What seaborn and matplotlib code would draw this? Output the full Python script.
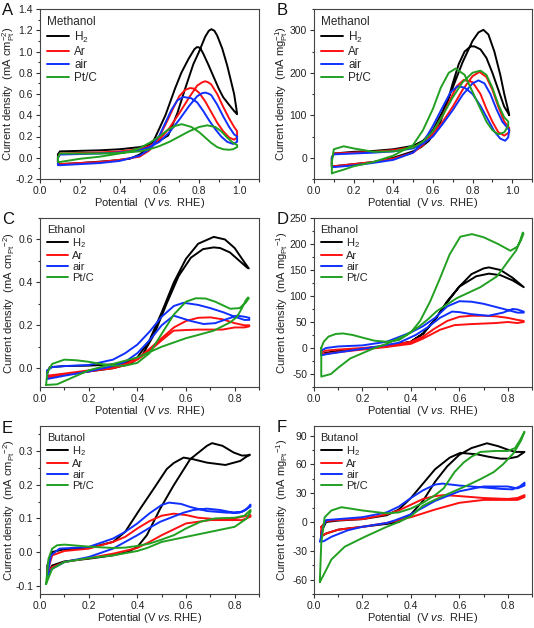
import matplotlib
matplotlib.use("Agg")
import matplotlib.pyplot as plt
import numpy as np
import pandas as pd
import seaborn as sns
from matplotlib.ticker import MultipleLocator, FormatStrFormatter

# ---------------- data ----------------
SERIES = ["H$_2$", "Ar", "air", "Pt/C"]
COLORS = ["#000000", "#ff1010", "#1030ff", "#22a022"]

# Panel A  - methanol, specific activity (mA cm-2 Pt)
A_H2_x = [0.09, 0.1, 0.2, 0.3, 0.4, 0.5, 0.55, 0.6, 0.644, 0.69, 0.729, 0.77, 0.797, 0.83, 0.848, 0.861, 0.876, 0.89, 0.915, 0.94, 0.957, 0.975, 0.985, 0.99,
          0.985, 0.975, 0.949, 0.92, 0.898, 0.87, 0.847, 0.82, 0.807, 0.797, 0.787, 0.775, 0.746, 0.71, 0.678, 0.63, 0.576, 0.55, 0.5, 0.45, 0.35, 0.2, 0.1, 0.09, 0.09]
A_H2_y = [0.03, 0.06, 0.065, 0.07, 0.08, 0.1, 0.12, 0.16, 0.21, 0.42, 0.65, 0.88, 0.99, 1.14, 1.195, 1.21, 1.195, 1.15, 1.03, 0.87, 0.74, 0.6, 0.48, 0.41,
          0.42, 0.44, 0.5, 0.57, 0.65, 0.77, 0.87, 0.98, 1.025, 1.04, 1.04, 1.02, 0.93, 0.8, 0.65, 0.4, 0.18, 0.1, 0.03, -0.01, -0.03, -0.05, -0.06, -0.04, 0.03]
A_Ar_x = [0.09, 0.1, 0.2, 0.3, 0.4, 0.5, 0.55, 0.6, 0.65, 0.7, 0.75, 0.79, 0.815, 0.83, 0.845, 0.86, 0.89, 0.92, 0.95, 0.975, 0.99,
          0.99, 0.975, 0.95, 0.92, 0.89, 0.86, 0.83, 0.8, 0.775, 0.754, 0.73, 0.7, 0.67, 0.64, 0.6, 0.55, 0.5, 0.4, 0.3, 0.2, 0.1, 0.09, 0.09]
A_Ar_y = [0.0, 0.04, 0.045, 0.05, 0.06, 0.08, 0.11, 0.17, 0.28, 0.42, 0.57, 0.68, 0.71, 0.72, 0.71, 0.69, 0.6, 0.48, 0.37, 0.29, 0.25,
          0.19, 0.17, 0.19, 0.25, 0.33, 0.43, 0.53, 0.61, 0.65, 0.656, 0.64, 0.58, 0.47, 0.35, 0.2, 0.07, 0.01, -0.02, -0.04, -0.05, -0.06, -0.06, 0.0]
A_air_x = [0.09, 0.1, 0.2, 0.3, 0.4, 0.5, 0.55, 0.6, 0.65, 0.7, 0.75, 0.79, 0.815, 0.83, 0.845, 0.86, 0.89, 0.92, 0.95, 0.975, 0.99,
           0.99, 0.97, 0.94, 0.91, 0.88, 0.85, 0.82, 0.79, 0.76, 0.72, 0.69, 0.66, 0.63, 0.6, 0.55, 0.5, 0.4, 0.3, 0.2, 0.1, 0.09, 0.09]
A_air_y = [0.0, 0.03, 0.035, 0.04, 0.05, 0.07, 0.1, 0.15, 0.24, 0.36, 0.49, 0.58, 0.608, 0.613, 0.605, 0.59, 0.5, 0.39, 0.29, 0.22, 0.2,
           0.15, 0.13, 0.15, 0.2, 0.27, 0.35, 0.44, 0.52, 0.56, 0.572, 0.54, 0.45, 0.33, 0.21, 0.08, 0.02, -0.03, -0.05, -0.06, -0.07, -0.07, 0.0]
A_PtC_x = [0.09, 0.1, 0.2, 0.3, 0.4, 0.5, 0.55, 0.6, 0.65, 0.7, 0.75, 0.8, 0.84, 0.88, 0.91, 0.94, 0.97, 0.99,
           0.99, 0.97, 0.95, 0.92, 0.89, 0.86, 0.83, 0.8, 0.76, 0.712, 0.68, 0.64, 0.6, 0.55, 0.5, 0.45, 0.4, 0.3, 0.2, 0.1, 0.09, 0.09]
A_PtC_y = [0.0, 0.04, 0.04, 0.04, 0.045, 0.06, 0.08, 0.11, 0.15, 0.2, 0.25, 0.29, 0.305, 0.29, 0.25, 0.19, 0.14, 0.12,
           0.1, 0.08, 0.075, 0.08, 0.1, 0.14, 0.19, 0.24, 0.29, 0.316, 0.3, 0.26, 0.2, 0.14, 0.09, 0.06, 0.04, 0.01, -0.01, -0.04, -0.04, 0.0]

# Panel B  - methanol, mass activity (mA mg-1 Pt)
B_H2_x = [0.09, 0.1, 0.2, 0.3, 0.4, 0.5, 0.55, 0.6, 0.65, 0.7, 0.75, 0.8, 0.83, 0.855, 0.88, 0.91, 0.94, 0.96, 0.98, 0.985,
          0.98, 0.96, 0.93, 0.9, 0.87, 0.84, 0.81, 0.79, 0.76, 0.73, 0.7, 0.67, 0.63, 0.58, 0.54, 0.5, 0.4, 0.3, 0.2, 0.1, 0.09, 0.09]
B_H2_y = [0, 10, 14, 16, 20, 28, 40, 65, 110, 165, 225, 275, 295, 301, 290, 250, 195, 150, 112, 100,
          105, 120, 160, 200, 235, 255, 262, 262, 250, 220, 175, 125, 75, 40, 25, 15, 0, -10, -15, -20, -20, 0]
B_Ar_x = [0.09, 0.1, 0.2, 0.3, 0.4, 0.5, 0.55, 0.6, 0.65, 0.7, 0.75, 0.8, 0.835, 0.87, 0.9, 0.93, 0.96, 0.985,
          0.985, 0.96, 0.93, 0.9, 0.87, 0.84, 0.8, 0.755, 0.72, 0.69, 0.65, 0.6, 0.55, 0.5, 0.4, 0.3, 0.2, 0.1, 0.09, 0.09]
B_Ar_y = [0, 10, 12, 14, 18, 25, 35, 55, 85, 120, 160, 192, 202, 190, 160, 120, 85, 70,
          60, 52, 60, 85, 115, 150, 178, 183, 168, 140, 100, 60, 30, 12, -2, -10, -15, -20, -20, 0]
B_air_x = [0.09, 0.1, 0.2, 0.3, 0.4, 0.5, 0.55, 0.6, 0.65, 0.7, 0.75, 0.8, 0.83, 0.86, 0.89, 0.92, 0.95, 0.98, 0.985,
           0.98, 0.965, 0.94, 0.91, 0.88, 0.84, 0.8, 0.76, 0.725, 0.69, 0.65, 0.6, 0.55, 0.5, 0.4, 0.3, 0.2, 0.1, 0.09, 0.09]
B_air_y = [0, 8, 10, 12, 15, 22, 33, 50, 80, 112, 148, 175, 182, 175, 150, 115, 85, 68, 65,
           48, 40, 45, 62, 88, 122, 150, 165, 168, 155, 120, 75, 35, 12, -5, -12, -18, -22, -22, 0]
B_PtC_x = [0.09, 0.1, 0.15, 0.2, 0.3, 0.4, 0.5, 0.55, 0.6, 0.65, 0.7, 0.75, 0.8, 0.84, 0.87, 0.9, 0.93, 0.96, 0.98,
           0.98, 0.96, 0.93, 0.9, 0.87, 0.84, 0.8, 0.76, 0.715, 0.68, 0.64, 0.6, 0.55, 0.5, 0.4, 0.3, 0.2, 0.15, 0.1, 0.09, 0.09]
B_PtC_y = [-10, 20, 27, 22, 14, 15, 24, 38, 62, 100, 142, 178, 200, 205, 195, 165, 125, 95, 85,
           75, 60, 55, 65, 85, 115, 155, 195, 210, 200, 165, 115, 65, 30, 5, -10, -20, -28, -35, -37, -10]

# Panel C  - ethanol, specific activity
C_H2_x = [0.03, 0.04, 0.1, 0.2, 0.3, 0.35, 0.4, 0.45, 0.5, 0.55, 0.6, 0.65, 0.714, 0.76, 0.8, 0.83, 0.858,
          0.85, 0.82, 0.78, 0.74, 0.714, 0.67, 0.62, 0.57, 0.52, 0.47, 0.42, 0.37, 0.3, 0.2, 0.1, 0.03, 0.03]
C_H2_y = [-0.02, 0.005, 0.01, 0.012, 0.018, 0.025, 0.05, 0.13, 0.26, 0.4, 0.51, 0.58, 0.612, 0.6, 0.56, 0.51, 0.465,
          0.47, 0.5, 0.54, 0.56, 0.563, 0.555, 0.515, 0.43, 0.3, 0.16, 0.06, 0.02, 0.0, -0.015, -0.03, -0.045, -0.02]
C_Ar_x = [0.03, 0.1, 0.2, 0.3, 0.35, 0.4, 0.45, 0.5, 0.55, 0.6, 0.65, 0.7, 0.75, 0.8, 0.84, 0.86,
          0.86, 0.84, 0.8, 0.75, 0.7, 0.65, 0.6, 0.549, 0.5, 0.45, 0.4, 0.35, 0.3, 0.2, 0.1, 0.03, 0.03]
C_Ar_y = [-0.035, -0.025, -0.01, 0.005, 0.02, 0.045, 0.09, 0.14, 0.19, 0.22, 0.235, 0.237, 0.228, 0.21, 0.2, 0.2,
          0.195, 0.19, 0.19, 0.18, 0.18, 0.18, 0.178, 0.175, 0.13, 0.08, 0.04, 0.015, 0.0, -0.015, -0.03, -0.045, -0.035]
C_air_x = [0.03, 0.05, 0.1, 0.2, 0.3, 0.35, 0.4, 0.45, 0.5, 0.55, 0.59, 0.65, 0.7, 0.755, 0.8, 0.84, 0.86,
           0.86, 0.84, 0.81, 0.77, 0.72, 0.672, 0.62, 0.549, 0.5, 0.45, 0.4, 0.35, 0.3, 0.2, 0.1, 0.03, 0.03]
C_air_y = [-0.01, 0.005, 0.01, 0.015, 0.04, 0.07, 0.11, 0.17, 0.24, 0.29, 0.305, 0.295, 0.28, 0.26, 0.24, 0.225, 0.225,
           0.235, 0.24, 0.245, 0.23, 0.21, 0.206, 0.22, 0.245, 0.2, 0.13, 0.07, 0.03, 0.01, -0.015, -0.035, -0.05, -0.01]
C_PtC_x = [0.025, 0.03, 0.05, 0.1, 0.15, 0.2, 0.25, 0.3, 0.35, 0.4, 0.45, 0.5, 0.55, 0.6, 0.64, 0.68, 0.72, 0.782, 0.82, 0.845, 0.858,
           0.855, 0.845, 0.83, 0.81, 0.782, 0.714, 0.65, 0.6, 0.5, 0.45, 0.4, 0.3, 0.2, 0.12, 0.07, 0.025]
C_PtC_y = [-0.078, -0.02, 0.02, 0.04, 0.037, 0.03, 0.02, 0.012, 0.012, 0.025, 0.07, 0.16, 0.25, 0.31, 0.326, 0.325, 0.31, 0.277, 0.28, 0.305, 0.326,
           0.33, 0.315, 0.28, 0.24, 0.214, 0.175, 0.155, 0.14, 0.1, 0.075, 0.05, 0.02, -0.01, -0.05, -0.075, -0.078]

# Panel D  - ethanol, mass activity
D_H2_x = [0.03, 0.05, 0.1, 0.2, 0.3, 0.4, 0.45, 0.5, 0.55, 0.6, 0.65, 0.7, 0.722, 0.77, 0.82, 0.866,
          0.82, 0.77, 0.722, 0.67, 0.6, 0.55, 0.5, 0.45, 0.4, 0.3, 0.2, 0.1, 0.03, 0.03]
D_H2_y = [-12, -9, -6, -2, 3, 12, 28, 55, 88, 118, 142, 153, 155, 150, 135, 117,
          130, 140, 143, 138, 118, 90, 55, 27, 12, 3, -1, -6, -13, -12]
D_Ar_x = [0.03, 0.05, 0.1, 0.2, 0.3, 0.4, 0.45, 0.5, 0.55, 0.6, 0.65, 0.7, 0.75, 0.8, 0.84, 0.866,
          0.866, 0.84, 0.8, 0.75, 0.7, 0.65, 0.58, 0.52, 0.45, 0.4, 0.3, 0.2, 0.1, 0.05, 0.03, 0.03]
D_Ar_y = [-8, -5, -3, 0, 4, 12, 22, 38, 52, 60, 62, 62, 61, 58, 54, 52,
          50, 48, 50, 48, 47, 46, 44, 35, 18, 8, 2, -3, -8, -11, -12, -8]
D_air_x = [0.03, 0.05, 0.1, 0.2, 0.3, 0.4, 0.45, 0.5, 0.55, 0.6, 0.65, 0.7, 0.75, 0.8, 0.84, 0.866,
           0.866, 0.84, 0.82, 0.78, 0.72, 0.65, 0.6, 0.57, 0.52, 0.47, 0.42, 0.35, 0.25, 0.15, 0.05, 0.03, 0.03]
D_air_y = [-5, 0, 3, 5, 12, 30, 42, 58, 80, 90, 89, 85, 79, 73, 68, 68,
           70, 74, 75, 68, 62, 65, 69, 70, 58, 40, 25, 10, 2, -5, -12, -14, -5]
D_PtC_x = [0.03, 0.04, 0.06, 0.09, 0.12, 0.16, 0.2, 0.25, 0.3, 0.35, 0.4, 0.438, 0.48, 0.521, 0.56, 0.604, 0.652, 0.7, 0.76, 0.811, 0.84, 0.855, 0.865,
           0.862, 0.85, 0.835, 0.811, 0.756, 0.687, 0.59, 0.507, 0.47, 0.43, 0.38, 0.3, 0.25, 0.15, 0.1, 0.07, 0.03, 0.03]
D_PtC_y = [0, 12, 22, 27, 28, 25, 20, 14, 12, 15, 30, 52, 90, 135, 180, 214, 219, 213, 200, 187, 195, 208, 220,
           222, 205, 188, 173, 138, 117, 96, 71, 55, 40, 25, 8, 0, -20, -38, -50, -55, 0]

# Panel E  - butanol, specific activity
E_H2_x = [0.03, 0.05, 0.1, 0.2, 0.3, 0.36, 0.4, 0.439, 0.494, 0.549, 0.617, 0.686, 0.707, 0.75, 0.796, 0.83, 0.862,
          0.862, 0.845, 0.823, 0.762, 0.686, 0.63, 0.59, 0.55, 0.521, 0.467, 0.412, 0.35, 0.3, 0.2, 0.1, 0.05, 0.03, 0.03]
E_H2_y = [-0.065, -0.04, -0.028, -0.02, -0.01, 0.0, 0.015, 0.05, 0.129, 0.198, 0.276, 0.316, 0.324, 0.316, 0.296, 0.287, 0.288,
          0.29, 0.282, 0.271, 0.259, 0.266, 0.276, 0.281, 0.265, 0.247, 0.188, 0.129, 0.06, 0.03, 0.012, 0.008, 0.0, -0.04, -0.065]
E_Ar_x = [0.03, 0.05, 0.1, 0.2, 0.3, 0.35, 0.4, 0.45, 0.5, 0.549, 0.6, 0.65, 0.72, 0.8, 0.865,
          0.865, 0.83, 0.75, 0.7, 0.6, 0.5, 0.45, 0.4, 0.3, 0.2, 0.1, 0.05, 0.03]
E_Ar_y = [-0.06, -0.01, 0.003, 0.01, 0.03, 0.045, 0.07, 0.092, 0.108, 0.114, 0.11, 0.102, 0.098, 0.1, 0.11,
          0.105, 0.095, 0.095, 0.095, 0.085, 0.05, 0.03, 0.012, -0.005, -0.018, -0.03, -0.045, -0.06]
E_air_x = [0.03, 0.045, 0.08, 0.2, 0.3, 0.35, 0.4, 0.45, 0.5, 0.53, 0.58, 0.617, 0.686, 0.769, 0.82, 0.845, 0.865,
           0.865, 0.83, 0.796, 0.74, 0.686, 0.63, 0.59, 0.494, 0.45, 0.4, 0.35, 0.3, 0.2, 0.1, 0.05, 0.03]
E_air_y = [-0.07, -0.01, 0.01, 0.015, 0.04, 0.06, 0.085, 0.115, 0.14, 0.147, 0.143, 0.134, 0.122, 0.117, 0.117, 0.125, 0.141,
           0.135, 0.12, 0.117, 0.125, 0.129, 0.125, 0.117, 0.09, 0.072, 0.05, 0.03, 0.01, -0.015, -0.03, -0.05, -0.07]
E_PtC_x = [0.025, 0.035, 0.05, 0.07, 0.1, 0.2, 0.3, 0.35, 0.4, 0.45, 0.5, 0.55, 0.6, 0.66, 0.72, 0.8, 0.84, 0.865,
           0.865, 0.85, 0.8, 0.7, 0.6, 0.5, 0.44, 0.4, 0.3, 0.2, 0.1, 0.05, 0.025]
E_PtC_y = [-0.095, -0.02, 0.01, 0.02, 0.022, 0.016, 0.012, 0.013, 0.018, 0.025, 0.037, 0.05, 0.07, 0.09, 0.1, 0.102, 0.108, 0.125,
           0.12, 0.1, 0.075, 0.06, 0.045, 0.03, 0.012, 0.003, -0.01, -0.018, -0.03, -0.05, -0.095]

# Panel F  - butanol, mass activity
F_H2_x = [0.03, 0.05, 0.1, 0.2, 0.3, 0.35, 0.4, 0.45, 0.5, 0.55, 0.6, 0.65, 0.714, 0.76, 0.797, 0.83, 0.869,
          0.869, 0.84, 0.8, 0.77, 0.72, 0.673, 0.604, 0.56, 0.5, 0.45, 0.4, 0.35, 0.3, 0.2, 0.1, 0.05, 0.03, 0.03]
F_H2_y = [-15, -12, -8, -5, -2, 0, 8, 22, 42, 58, 70, 77, 82, 79, 75.6, 73, 73,
          73, 68, 66, 66, 68, 70.5, 72, 67, 55, 40, 25, 13, 7, 3, 1.5, 0, -10, -15]
F_Ar_x = [0.03, 0.05, 0.1, 0.2, 0.3, 0.35, 0.4, 0.45, 0.5, 0.535, 0.6, 0.7, 0.8, 0.84, 0.869,
          0.869, 0.84, 0.8, 0.7, 0.6, 0.5, 0.45, 0.4, 0.3, 0.2, 0.1, 0.05, 0.03, 0.03]
F_Ar_y = [-5, 1, 2, 3, 8, 12, 18, 24, 27, 28, 27, 25, 24, 25, 28,
          26, 23, 23, 23, 20, 13, 9, 5, -1, -5, -8, -12, -15, -5]
F_air_x = [0.03, 0.04, 0.05, 0.1, 0.2, 0.3, 0.35, 0.4, 0.45, 0.5, 0.53, 0.6, 0.7, 0.77, 0.82, 0.85, 0.869,
           0.869, 0.84, 0.8, 0.7, 0.6, 0.5, 0.45, 0.4, 0.334, 0.3, 0.2, 0.14, 0.072, 0.04, 0.024, 0.03]
F_air_y = [-15, -3, 2, 3, 5, 10, 16, 25, 33, 39, 40, 38, 36, 34.5, 34, 37, 41,
           38, 35, 37, 37, 32, 22, 15, 8, 1.7, -1, -5, -8.6, -15.4, -20, -20.5, -15]
F_PtC_x = [0.024, 0.03, 0.044, 0.072, 0.113, 0.15, 0.2, 0.3, 0.35, 0.4, 0.45, 0.5, 0.535, 0.58, 0.618, 0.65, 0.687, 0.75, 0.8, 0.83, 0.85, 0.869,
           0.855, 0.825, 0.78, 0.742, 0.69, 0.632, 0.56, 0.493, 0.45, 0.4, 0.35, 0.3, 0.21, 0.127, 0.072, 0.04, 0.024]
F_PtC_y = [-62.6, -22, 5, 12, 15.4, 14, 12, 9, 10, 14, 20, 28, 35, 52, 62, 68, 73, 74, 74, 77, 85, 94,
           85, 72, 60, 52, 45, 38, 30, 22.5, 17, 6, 0, -5, -15.4, -25.7, -39, -55, -62.6]

TITLES = ["Methanol", "Methanol", "Ethanol", "Ethanol", "Butanol", "Butanol"]
LETTERS = ["A", "B", "C", "D", "E", "F"]

# ---------------- style ----------------
sns.set_style("white")
plt.rcParams["font.family"] = ["Liberation Sans", "DejaVu Sans"]
plt.rcParams["mathtext.fontset"] = "custom"
plt.rcParams["mathtext.rm"] = "Liberation Sans"
plt.rcParams["mathtext.it"] = "Liberation Sans:italic"
plt.rcParams["mathtext.bf"] = "Liberation Sans:bold"
plt.rcParams["axes.unicode_minus"] = False
plt.rcParams["lines.solid_joinstyle"] = "round"

W, H = 534, 628
fig = plt.figure(figsize=(W / 100, H / 100), dpi=100)

curves = {
    "A": [(A_H2_x, A_H2_y), (A_Ar_x, A_Ar_y), (A_air_x, A_air_y), (A_PtC_x, A_PtC_y)],
    "B": [(B_H2_x, B_H2_y), (B_Ar_x, B_Ar_y), (B_air_x, B_air_y), (B_PtC_x, B_PtC_y)],
    "C": [(C_H2_x, C_H2_y), (C_Ar_x, C_Ar_y), (C_air_x, C_air_y), (C_PtC_x, C_PtC_y)],
    "D": [(D_H2_x, D_H2_y), (D_Ar_x, D_Ar_y), (D_air_x, D_air_y), (D_PtC_x, D_PtC_y)],
    "E": [(E_H2_x, E_H2_y), (E_Ar_x, E_Ar_y), (E_air_x, E_air_y), (E_PtC_x, E_PtC_y)],
    "F": [(F_H2_x, F_H2_y), (F_Ar_x, F_Ar_y), (F_air_x, F_air_y), (F_PtC_x, F_PtC_y)],
}

# layout (pixel boxes: left, top, right, bottom)
boxes = {
    "A": (40, 9, 259, 179), "B": (314, 9, 532, 179),
    "C": (40, 218, 259, 387), "D": (314, 218, 532, 387),
    "E": (40, 426, 259, 594), "F": (314, 426, 532, 594),
}
letter_pos = {"A": (2, 3), "B": (277, 3), "C": (2, 212), "D": (277, 212), "E": (2, 421), "F": (277, 420)}

cfg = {
    "A": dict(xlim=(0, 1.1), ylim=(-0.2, 1.4), ymaj=0.2, ymin=0.1, fmt="%.1f",
              ylab="Current density  (mA cm$_{\\mathrm{Pt}}^{-2}$)", xlab="Potential  (V $\\it{vs.}$ RHE)"),
    "B": dict(xlim=(0, 1.1), ylim=(-50, 350), ymaj=100, ymin=50, fmt="%d",
              ylab="Current density  (mA mg$_{\\mathrm{Pt}}^{-1}$)", xlab="Potential  (V $\\it{vs.}$ RHE)"),
    "C": dict(xlim=(0, 0.9), ylim=(-0.0875, 0.7), ymaj=0.2, ymin=0.1, fmt="%.1f",
              ylab="Current density  (mA cm$_{\\mathrm{Pt}}$$^{-2}$)", xlab="Potential  (V $\\it{vs.}$ RHE)"),
    "D": dict(xlim=(0, 0.9), ylim=(-75, 250), ymaj=50, ymin=25, fmt="%d",
              ylab="Current density  (mA mg$_{\\mathrm{Pt}}$$^{-1}$)", xlab="Potential  (V $\\it{vs.}$ RHE)"),
    "E": dict(xlim=(0, 0.9), ylim=(-0.125, 0.375), ymaj=0.1, ymin=0.05, fmt="%.1f",
              ylab="Current density  (mA cm$_{\\mathrm{Pt}}$$^{-2}$)", xlab="Potential (V $\\it{vs.}$RHE)"),
    "F": dict(xlim=(0, 0.9), ylim=(-75, 100), ymaj=30, ymin=15, fmt="%d",
              ylab="Current density  (mA mg$_{\\mathrm{Pt}}$$^{-1}$)", xlab="Potential  (V $\\it{vs.}$ RHE)"),
}

for i, L in enumerate(LETTERS):
    l, t, r, b = boxes[L]
    ax = fig.add_axes([l / W, 1 - b / H, (r - l) / W, (b - t) / H])
    rows = []
    for name, (xs, ys) in zip(SERIES, curves[L]):
        for k, (xv, yv) in enumerate(zip(xs, ys)):
            rows.append({"x": xv, "y": yv, "series": name, "k": k})
    df = pd.DataFrame(rows)
    sns.lineplot(data=df, x="x", y="y", hue="series", hue_order=SERIES,
                 palette=COLORS, sort=False, estimator=None, lw=1.4, ax=ax)
    c = cfg[L]
    ax.set_xlim(*c["xlim"])
    ax.set_ylim(*c["ylim"])
    ax.xaxis.set_major_locator(MultipleLocator(0.2))
    ax.xaxis.set_minor_locator(MultipleLocator(0.1))
    ax.xaxis.set_major_formatter(FormatStrFormatter("%.1f"))
    ax.yaxis.set_major_locator(MultipleLocator(c["ymaj"]))
    ax.yaxis.set_minor_locator(MultipleLocator(c["ymin"]))
    ax.yaxis.set_major_formatter(FormatStrFormatter(c["fmt"]))
    ax.tick_params(which="both", direction="out", bottom=True, left=True, top=False, right=False,
                   colors="#333333", width=0.8, labelsize=7.5, pad=2, labelcolor="#222222")
    ax.tick_params(which="major", length=3)
    ax.tick_params(which="minor", length=1.8)
    for s in ax.spines.values():
        s.set_color("#444444")
        s.set_linewidth(0.8)
    ax.set_xlabel(c["xlab"], fontsize=8, color="#222222")
    ax.set_ylabel(c["ylab"], fontsize=8, color="#222222")
    ax.xaxis.set_label_coords(0.5, -0.1)
    ax.yaxis.set_label_coords(-0.105 if L in "ACE" else -0.11, 0.5)
    h, lab = ax.get_legend_handles_labels()
    fs = 8.5 if L in "AB" else 8
    leg = ax.legend(h, lab, title=TITLES[i], loc="upper left", bbox_to_anchor=(0.01, 0.985),
                    frameon=False, fontsize=fs, title_fontsize=fs, handlelength=1.9,
                    handletextpad=0.4, labelspacing=0.1, borderaxespad=0.2, borderpad=0.2)
    leg._legend_box.align = "left"
    lx, ly = letter_pos[L]
    fig.text(lx / W, 1 - ly / H, L, fontsize=12, ha="left", va="top", color="#111111")

fig.savefig("out.png", dpi=100)
